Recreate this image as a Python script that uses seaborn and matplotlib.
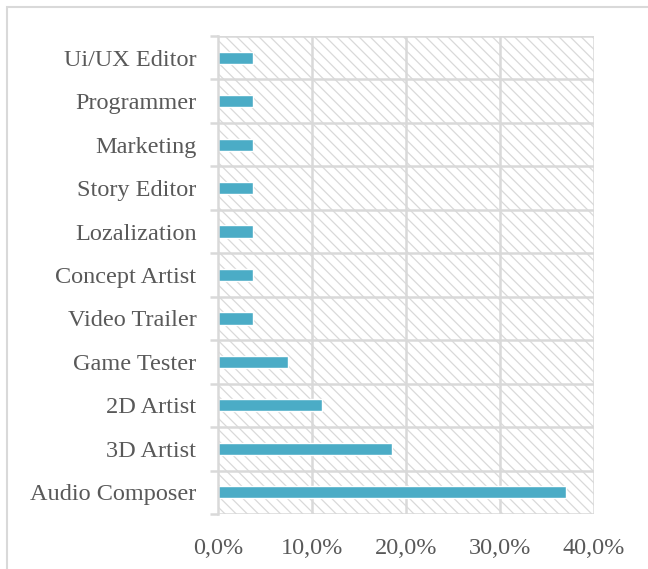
import matplotlib
matplotlib.use("Agg")
import matplotlib.pyplot as plt
import seaborn as sns
import pandas as pd
from matplotlib.patches import Rectangle
from matplotlib.ticker import FuncFormatter, FixedLocator

categories = ["Ui/UX Editor", "Programmer", "Marketing", "Story Editor", "Lozalization",
              "Concept Artist", "Video Trailer", "Game Tester", "2D Artist", "3D Artist",
              "Audio Composer"]
values = [3.7, 3.7, 3.7, 3.7, 3.7, 3.7, 3.7, 7.4, 11.1, 18.5, 37.0]
xticks = [0, 10, 20, 30, 40]

df = pd.DataFrame({"cat": categories, "val": values})

sns.set_theme(style="white")
plt.rcParams['font.family'] = ['Liberation Serif', 'DejaVu Serif']
plt.rcParams['hatch.linewidth'] = 0.9
plt.rcParams['hatch.color'] = "#d9d9d9"

fig = plt.figure(figsize=(6.48, 5.69), dpi=100)
ax = fig.add_axes([218/648, 1-514/569, (594-218)/648, (514-36)/569])

grid_c = "#d9d9d9"
# hatched background
bg = Rectangle((0, 0), 1, 1, transform=ax.transAxes, facecolor="white",
               edgecolor="#d9d9d9", hatch="\\\\\\", linewidth=0, zorder=0)
ax.add_patch(bg)

sns.barplot(data=df, y="cat", x="val", order=categories, orient="h",
            color="#4bacc6", saturation=1, width=0.28, ax=ax, zorder=3)

ax.set_xlim(0, 40)
ax.set_ylim(len(categories)-0.5, -0.5)
ax.set_xticks(xticks)
ax.xaxis.set_major_formatter(FuncFormatter(lambda v, p: f"{v:.1f}%".replace(".", ",")))
ax.set_xlabel("")
ax.set_ylabel("")

# vertical gridlines
for xv in xticks[1:]:
    ax.axvline(xv, color=grid_c, lw=1.8, zorder=1)
# horizontal separators
for i in range(len(categories)+1):
    ax.axhline(i-0.5, color=grid_c, lw=1.8, zorder=1)

ax.yaxis.set_minor_locator(FixedLocator([i-0.5 for i in range(len(categories)+1)]))
ax.tick_params(axis="y", which="minor", length=6, width=1.8, color=grid_c, direction="out", left=True)
ax.tick_params(axis="y", which="major", length=0, pad=15.5, labelsize=17.5, labelcolor="#595959")
ax.tick_params(axis="x", which="major", length=0, pad=17, labelsize=17.5, labelcolor="#595959")

for s in ["top", "right", "bottom"]:
    ax.spines[s].set_visible(False)
ax.spines["left"].set_color(grid_c)
ax.spines["left"].set_linewidth(1.8)
ax.spines["left"].set_zorder(4)

# outer frame
fig.patches.append(Rectangle((7/648, -0.1), 1.1, 1 - 7/569 + 0.1, transform=fig.transFigure,
                             fill=False, edgecolor="#d9d9d9", linewidth=1.5))

fig.savefig("out.png", dpi=100)
